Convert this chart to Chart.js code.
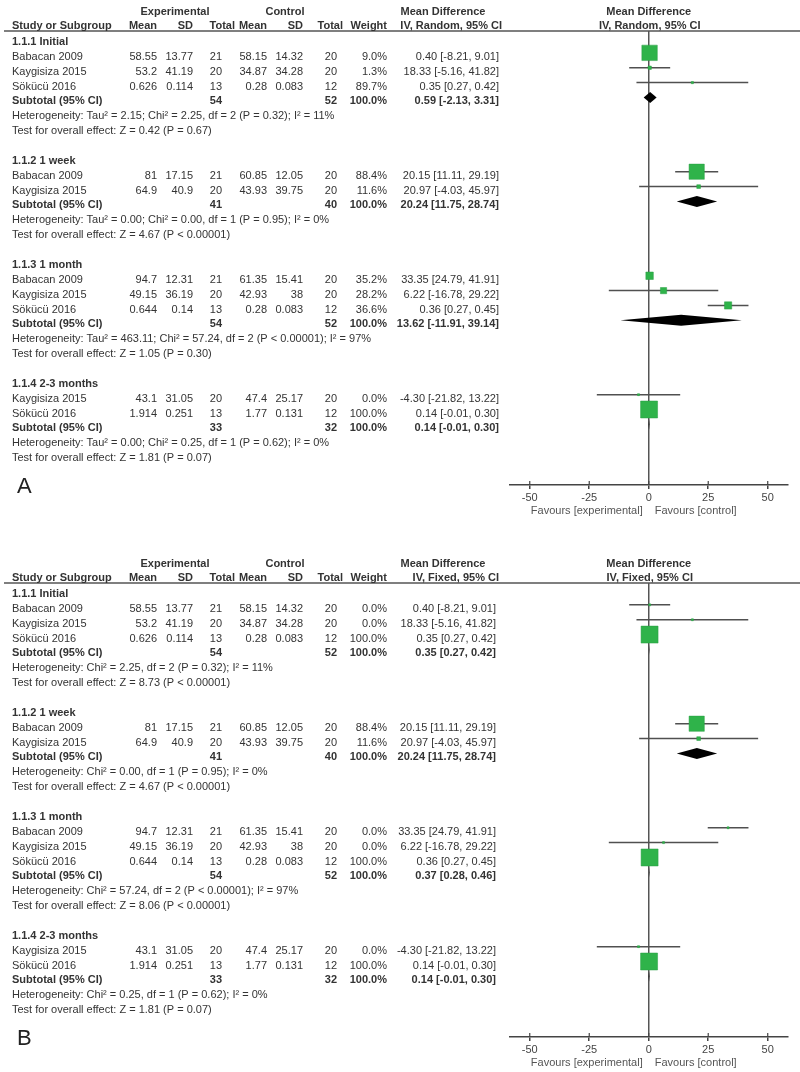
<!DOCTYPE html>
<html>
<head>
<meta charset="utf-8">
<script src="https://cdn.jsdelivr.net/npm/chart.js@4.4.1/dist/chart.umd.min.js"></script>
<style>
    html, body { margin: 0; padding: 0; background: #fff; width: 800px; height: 1072px; overflow: hidden; }
    .panel { position: absolute; left: 0; width: 800px; height: 552px; }
    #panelA { top: 0; }
    #panelB { top: 552px; }
</style>
</head>
<body>
<div class="panel" id="panelA"><canvas id="chartA" width="800" height="552"></canvas></div>
<div class="panel" id="panelB"><canvas id="chartB" width="800" height="552"></canvas></div>
<script>
// subgroups and studies
const groupTitles = ['1.1.1 Initial', '1.1.2 1 week', '1.1.3 1 month', '1.1.4 2-3 months'];
const studyGroup = [0, 0, 0, 1, 1, 2, 2, 2, 3, 3];
const studyName = ['Babacan 2009', 'Kaygisiza 2015', 'Sökücü 2016', 'Babacan 2009', 'Kaygisiza 2015',
    'Babacan 2009', 'Kaygisiza 2015', 'Sökücü 2016', 'Kaygisiza 2015', 'Sökücü 2016'];
const expMean = ['58.55', '53.2', '0.626', '81', '64.9', '94.7', '49.15', '0.644', '43.1', '1.914'];
const expSD = ['13.77', '41.19', '0.114', '17.15', '40.9', '12.31', '36.19', '0.14', '31.05', '0.251'];
const expTotal = [21, 20, 13, 21, 20, 21, 20, 13, 20, 13];
const ctlMean = ['58.15', '34.87', '0.28', '60.85', '43.93', '61.35', '42.93', '0.28', '47.4', '1.77'];
const ctlSD = ['14.32', '34.28', '0.083', '12.05', '39.75', '15.41', '38', '0.083', '25.17', '0.131'];
const ctlTotal = [20, 20, 12, 20, 20, 20, 20, 12, 20, 12];
const md = [0.40, 18.33, 0.35, 20.15, 20.97, 33.35, 6.22, 0.36, -4.30, 0.14];
const mdLow = [-8.21, -5.16, 0.27, 11.11, -4.03, 24.79, -16.78, 0.27, -21.82, -0.01];
const mdHigh = [9.01, 41.82, 0.42, 29.19, 45.97, 41.91, 29.22, 0.45, 13.22, 0.30];
const weightRandom = [9.0, 1.3, 89.7, 88.4, 11.6, 35.2, 28.2, 36.6, 0.0, 100.0];
const weightFixed = [0.0, 0.0, 100.0, 88.4, 11.6, 0.0, 0.0, 100.0, 0.0, 100.0];

// subtotals
const subExpTotal = [54, 41, 54, 33];
const subCtlTotal = [52, 40, 52, 32];
const subRandomMd = [0.59, 20.24, 13.62, 0.14];
const subRandomLow = [-2.13, 11.75, -11.91, -0.01];
const subRandomHigh = [3.31, 28.74, 39.14, 0.30];
const subFixedMd = [0.35, 20.24, 0.37, 0.14];
const subFixedLow = [0.27, 11.75, 0.28, -0.01];
const subFixedHigh = [0.42, 28.74, 0.46, 0.30];
const hetRandom = ['Tau² = 2.15; Chi² = 2.25, df = 2 (P = 0.32); I² = 11%',
    'Tau² = 0.00; Chi² = 0.00, df = 1 (P = 0.95); I² = 0%',
    'Tau² = 463.11; Chi² = 57.24, df = 2 (P < 0.00001); I² = 97%',
    'Tau² = 0.00; Chi² = 0.25, df = 1 (P = 0.62); I² = 0%'];
const hetFixed = ['Chi² = 2.25, df = 2 (P = 0.32); I² = 11%',
    'Chi² = 0.00, df = 1 (P = 0.95); I² = 0%',
    'Chi² = 57.24, df = 2 (P < 0.00001); I² = 97%',
    'Chi² = 0.25, df = 1 (P = 0.62); I² = 0%'];
const testRandom = ['Z = 0.42 (P = 0.67)', 'Z = 4.67 (P < 0.00001)', 'Z = 1.05 (P = 0.30)', 'Z = 1.81 (P = 0.07)'];
const testFixed = ['Z = 8.73 (P < 0.00001)', 'Z = 4.67 (P < 0.00001)', 'Z = 8.06 (P < 0.00001)', 'Z = 1.81 (P = 0.07)'];

// which study's marker is drawn on each table row (panel A is drawn shifted)
const plotOrderA = [2, 0, 1, 3, 4, 7, 6, 5, 8, 9];
const plotOrderB = [0, 1, 2, 3, 4, 5, 6, 7, 8, 9];

const xTicks = [-50, -25, 0, 25, 50];

const FONT = '"Liberation Sans", Arial, sans-serif';
const TEXT = '#333';
const ROW_PX = 14.86;

// row index of every line of the table
const titleRow = [], studyRow = [], subRow = [], hetRow = [], testRow = [];
(() => {
    let k = 0;
    groupTitles.forEach((t, g) => {
        titleRow.push(k++);
        studyGroup.forEach((sg, s) => { if (sg === g) studyRow[s] = k++; });
        subRow.push(k++);
        hetRow.push(k++);
        testRow.push(k++);
        k++;
    });
})();

const fmt = (m, lo, hi) => `${m.toFixed(2)} [${lo.toFixed(2)}, ${hi.toFixed(2)}]`;

const forestPlugin = (p) => ({
    id: 'forest',
    afterDraw(chart) {
        const ctx = chart.ctx;
        const x = chart.scales.x;
        const y = chart.scales.y;
        const top = chart.chartArea.top;
        const bottom = chart.chartArea.bottom;
        const zero = x.getPixelForValue(0);
        const ty = (k) => y.getPixelForValue(k) + 4;
        const put = (s, px, py, align, bold, size) => {
            ctx.font = (bold ? 'bold ' : '') + (size || 11) + 'px ' + FONT;
            ctx.textAlign = align;
            ctx.fillText(s, px, py);
        };

        ctx.save();

        // subtotal diamonds
        ctx.fillStyle = '#000';
        p.subMd.forEach((m, g) => {
            const cy = y.getPixelForValue(subRow[g]);
            ctx.beginPath();
            ctx.moveTo(x.getPixelForValue(p.subLow[g]), cy);
            ctx.lineTo(x.getPixelForValue(m), cy - 5.5);
            ctx.lineTo(x.getPixelForValue(p.subHigh[g]), cy);
            ctx.lineTo(x.getPixelForValue(m), cy + 5.5);
            ctx.closePath();
            ctx.fill();
        });

        // header rule
        ctx.strokeStyle = '#555';
        ctx.lineWidth = 1.5;
        ctx.beginPath();
        ctx.moveTo(4, top);
        ctx.lineTo(800, top);
        ctx.stroke();

        // tick marks above the axis line
        ctx.strokeStyle = '#444';
        ctx.lineWidth = 1.2;
        xTicks.forEach(v => {
            const px = x.getPixelForValue(v);
            ctx.beginPath();
            ctx.moveTo(px, bottom - 4);
            ctx.lineTo(px, bottom);
            ctx.stroke();
        });

        ctx.fillStyle = TEXT;
        ctx.textBaseline = 'middle';

        // column headers
        put('Experimental', 175, top - 19, 'center', true);
        put('Control', 285, top - 19, 'center', true);
        put('Mean Difference', 443, top - 19, 'center', true);
        put('Mean Difference', zero, top - 19, 'center', true);
        put('Study or Subgroup', 12, top - 5, 'left', true);
        put('Mean', 157, top - 5, 'right', true);
        put('SD', 193, top - 5, 'right', true);
        put('Total', 235, top - 5, 'right', true);
        put('Mean', 267, top - 5, 'right', true);
        put('SD', 303, top - 5, 'right', true);
        put('Total', 343, top - 5, 'right', true);
        put('Weight', 387, top - 5, 'right', true);
        put(p.method, p.mdRight + 3, top - 5, 'right', true);
        put(p.method, zero + 1, top - 5, 'center', true);

        groupTitles.forEach((t, g) => {
            put(t, 12, ty(titleRow[g]), 'left', true);
            put('Subtotal (95% CI)', 12, ty(subRow[g]), 'left', true);
            put(String(subExpTotal[g]), 222, ty(subRow[g]), 'right', true);
            put(String(subCtlTotal[g]), 337, ty(subRow[g]), 'right', true);
            put('100.0%', 387, ty(subRow[g]), 'right', true);
            put(fmt(p.subMd[g], p.subLow[g], p.subHigh[g]), p.mdRight, ty(subRow[g]), 'right', true);
            put('Heterogeneity: ' + p.het[g], 12, ty(hetRow[g]), 'left', false);
            put('Test for overall effect: ' + p.test[g], 12, ty(testRow[g]), 'left', false);
        });

        studyName.forEach((n, s) => {
            const r = ty(studyRow[s]);
            put(n, 12, r, 'left', false);
            put(expMean[s], 157, r, 'right', false);
            put(expSD[s], 193, r, 'right', false);
            put(String(expTotal[s]), 222, r, 'right', false);
            put(ctlMean[s], 267, r, 'right', false);
            put(ctlSD[s], 303, r, 'right', false);
            put(String(ctlTotal[s]), 337, r, 'right', false);
            put(p.weight[s].toFixed(1) + '%', 387, r, 'right', false);
            put(fmt(md[s], mdLow[s], mdHigh[s]), p.mdRight, r, 'right', false);
        });

        // favours labels and panel letter
        ctx.fillStyle = '#555';
        put('Favours [experimental]', zero - 6, bottom + 26, 'right', false);
        put('Favours [control]', zero + 6, bottom + 26, 'left', false);
        ctx.fillStyle = '#222';
        put(p.letter, 17, bottom + 2, 'left', false, 22);

        ctx.restore();
    }
});

const makeChart = (canvasId, p) => {
    const ciData = [];
    const squareData = [];
    const squareSize = [];
    p.order.forEach((s, slot) => {
        const row = studyRow[slot];
        ciData.push({ x: mdLow[s], y: row }, { x: mdHigh[s], y: row }, { x: mdHigh[s], y: null });
        squareData.push({ x: md[s], y: row });
        squareSize.push((2 + 15 * p.weight[s] / 100) / Math.SQRT2);
    });

    return new Chart(document.getElementById(canvasId), {
        type: 'scatter',
        data: {
            datasets: [
                {
                    label: 'CI',
                    data: ciData,
                    showLine: true,
                    spanGaps: false,
                    borderColor: '#505050',
                    borderWidth: 1.5,
                    pointRadius: 0,
                    order: 2
                },
                {
                    label: 'Studies',
                    data: squareData,
                    pointStyle: 'rect',
                    pointRadius: squareSize,
                    backgroundColor: '#2fb34a',
                    borderColor: '#2a9f44',
                    borderWidth: 0.5,
                    order: 1
                }
            ]
        },
        options: {
            responsive: false,
            animation: false,
            events: [],
            layout: { padding: { left: 510, right: 12, top: 31, bottom: 37 } },
            plugins: { legend: { display: false }, tooltip: { enabled: false } },
            scales: {
                x: {
                    type: 'linear',
                    min: -58.3,
                    max: 58.3,
                    afterBuildTicks: (scale) => { scale.ticks = xTicks.map(v => ({ value: v })); },
                    afterFit: (scale) => { scale.height = 30; },
                    grid: {
                        drawOnChartArea: true,
                        color: (c) => (c.tick && c.tick.value === 0 ? '#555' : 'rgba(0,0,0,0)'),
                        lineWidth: 1.5,
                        tickColor: '#444',
                        tickLength: 4
                    },
                    border: { display: true, color: '#444', width: 1.5 },
                    ticks: {
                        color: '#444',
                        padding: 2,
                        font: { family: FONT, size: 11 },
                        callback: (v) => String(v)
                    }
                },
                y: {
                    type: 'linear',
                    display: false,
                    reverse: true,
                    min: -(38 - 31) / ROW_PX,
                    max: (485 - 38) / ROW_PX
                }
            }
        },
        plugins: [forestPlugin(p)]
    });
};

makeChart('chartA', {
    letter: 'A',
    method: 'IV, Random, 95% CI',
    weight: weightRandom,
    order: plotOrderA,
    subMd: subRandomMd, subLow: subRandomLow, subHigh: subRandomHigh,
    het: hetRandom, test: testRandom,
    mdRight: 499
});

makeChart('chartB', {
    letter: 'B',
    method: 'IV, Fixed, 95% CI',
    weight: weightFixed,
    order: plotOrderB,
    subMd: subFixedMd, subLow: subFixedLow, subHigh: subFixedHigh,
    het: hetFixed, test: testFixed,
    mdRight: 496
});
</script>
</body>
</html>
